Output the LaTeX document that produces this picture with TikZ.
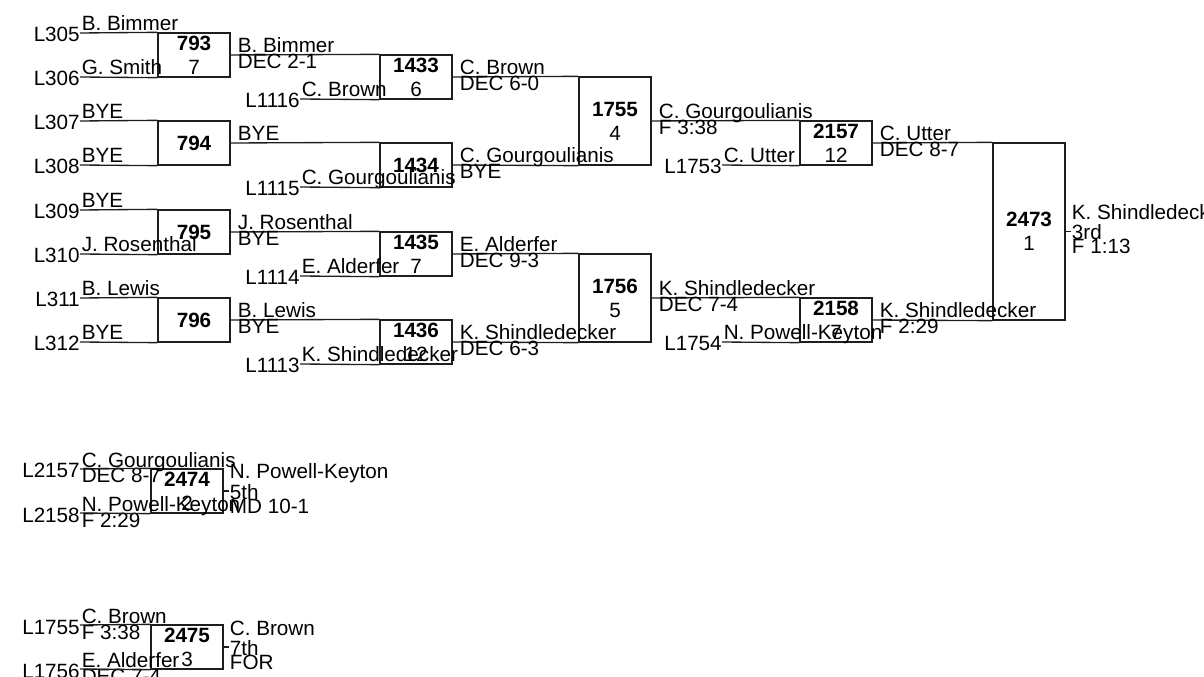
\documentclass[tikz,border=0pt]{standalone}
\usepackage{fontspec}
\setmainfont{Liberation Sans}
\usepackage{tikz}
\usetikzlibrary{positioning}
\definecolor{wireGray}{RGB}{30,30,30}

\begin{document}
\begin{tikzpicture}[x=0.75pt, y=-0.75pt,
    font=\fontsize{15.5}{18}\selectfont,
    bout/.style={draw=wireGray, line width=1pt, rectangle, minimum width=54pt,
      minimum height=33pt, inner sep=0pt, align=center},
    wire/.style={draw=wireGray, line width=1pt},
    who/.style={anchor=base west, inner sep=0pt},
    lbl/.style={anchor=base east, inner sep=0pt}]
  \useasboundingbox (0,0) rectangle (1204,677);

  % round 1 bouts
  \node[bout] (m793) at (194,55) {\textbf{793}\\7};
  \node[bout] (m794) at (194,143) {\textbf{794}};
  \node[bout] (m795) at (194,232) {\textbf{795}};
  \node[bout] (m796) at (194,320) {\textbf{796}};
  % round 2 bouts
  \node[bout] (m1433) at (416,77) {\textbf{1433}\\6};
  \node[bout] (m1434) at (416,165) {\textbf{1434}};
  \node[bout] (m1435) at (416,254) {\textbf{1435}\\7};
  \node[bout] (m1436) at (416,342) {\textbf{1436}\\12};
  % semis
  \node[bout, minimum height=66pt] (m1755) at (615,121) {\textbf{1755}\\4};
  \node[bout, minimum height=66pt] (m1756) at (615,298) {\textbf{1756}\\5};
  % consolation semis
  \node[bout] (m2157) at (836,143) {\textbf{2157}\\12};
  \node[bout] (m2158) at (836,320) {\textbf{2158}\\7};
  % placement bouts
  \node[bout, minimum height=132.75pt] (m2473) at (1029,231.5) {\textbf{2473}\\1};
  \node[bout] (m2474) at (187,491) {\textbf{2474}\\2};
  \node[bout] (m2475) at (187,647) {\textbf{2475}\\3};

  % entries: loser lines and seeds
  \foreach \id/\xx/\yy/\who in {305/80/33/B. Bimmer, 306/80/77/G. Smith,
      307/80/121/BYE, 308/80/165/BYE, 309/80/210/BYE, 310/80/254/J. Rosenthal,
      311/80/298/B. Lewis, 312/80/342/BYE,
      1116/300/99/C. Brown, 1115/300/187/C. Gourgoulianis,
      1114/300/276/E. Alderfer, 1113/300/364/K. Shindledecker,
      1753/722/165/C. Utter, 1754/722/342/N. Powell-Keyton} {
    \coordinate (e\id) at (\xx,\yy);
    \node[lbl] (l\id) at (\xx,\yy+9) {L\id};
    \node[who] (n\id) at (\xx+1.5,\yy-2) {\who};
  }
  % entries that carry a result
  \foreach \id/\yy/\who/\how in {2157/469/C. Gourgoulianis/DEC 8-7,
      2158/513/N. Powell-Keyton/F 2:29, 1755/625/C. Brown/F 3:38,
      1756/669/E. Alderfer/DEC 7-4} {
    \coordinate (e\id) at (80,\yy);
    \node[lbl] (l\id) at (80,\yy+9) {L\id};
    \node[who] (n\id) at (81.5,\yy-2) {\who};
    \node[who] (h\id) at (81.5,\yy+14) {\how};
  }

  % wires into the bouts
  \foreach \a/\b in {e305/m793.north west, e306/m793.south west,
      e307/m794.north west, e308/m794.south west,
      e309/m795.north west, e310/m795.south west,
      e311/m796.north west, e312/m796.south west,
      m793.east/m1433.north west, e1116/m1433.south west,
      m794.east/m1434.north west, e1115/m1434.south west,
      m795.east/m1435.north west, e1114/m1435.south west,
      m796.east/m1436.north west, e1113/m1436.south west,
      m1433.east/m1755.north west, m1434.east/m1755.south west,
      m1435.east/m1756.north west, m1436.east/m1756.south west,
      m1755.east/m2157.north west, e1753/m2157.south west,
      m1756.east/m2158.north west, e1754/m2158.south west,
      m2157.east/m2473.north west, m2158.east/m2473.south west,
      e2157/m2474.north west, e2158/m2474.south west,
      e1755/m2475.north west, e1756/m2475.south west}
    \draw[wire] (\a) -- (\b);

  % winners and results
  \node[who] (w794) at ([xshift=5.25pt,yshift=1.5pt]m794.east) {BYE};
  \foreach \m/\who/\how in {793/B. Bimmer/DEC 2-1, 795/J. Rosenthal/BYE,
      796/B. Lewis/BYE, 1433/C. Brown/DEC 6-0, 1434/C. Gourgoulianis/BYE,
      1435/E. Alderfer/DEC 9-3, 1436/K. Shindledecker/DEC 6-3,
      1755/C. Gourgoulianis/F 3:38, 1756/K. Shindledecker/DEC 7-4,
      2157/C. Utter/DEC 8-7, 2158/K. Shindledecker/F 2:29} {
    \node[who] (w\m) at ([xshift=5.25pt,yshift=1.5pt]m\m.east) {\who};
    \node[who] (r\m) at ([xshift=5.25pt,yshift=-10.5pt]m\m.east) {\how};
  }

  % places
  \foreach \m/\who/\rank/\how in {2473/K. Shindledecker/3rd/F 1:13,
      2474/N. Powell-Keyton/5th/MD 10-1, 2475/C. Brown/7th/FOR} {
    \coordinate[right=3.75pt of m\m] (s\m);
    \draw[wire] (m\m.east) -- (s\m);
    \node[who] (w\m) at ([xshift=4.5pt,yshift=9pt]m\m.east) {\who};
    \node[who] (p\m) at ([xshift=4.5pt,yshift=-6pt]m\m.east) {\rank};
    \node[who] (r\m) at ([xshift=4.5pt,yshift=-16.5pt]m\m.east) {\how};
  }
\end{tikzpicture}
\end{document}
